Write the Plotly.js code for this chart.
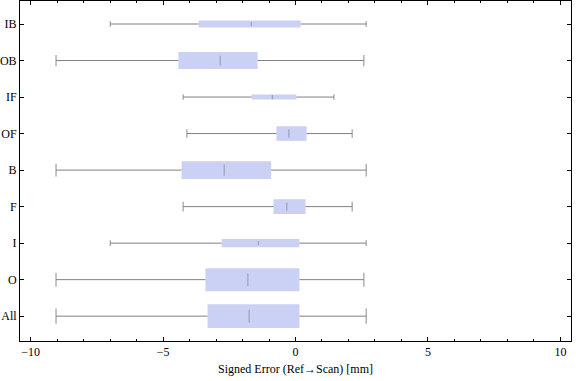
<!DOCTYPE html>
<html>
<head>
<meta charset="utf-8">
<script src="https://cdn.plot.ly/plotly-3.0.1.min.js"></script>
<style>html,body{margin:0;padding:0;background:#fff;}#chart{width:576px;height:381px;}</style>
</head>
<body>
<div id="chart"></div>
<script>
// ---- Data ----
const categories = ['All', 'O', 'I', 'F', 'B', 'OF', 'IF', 'OB', 'IB'];
const lowerFence = [-9.04, -9.04, -6.99, -4.24, -9.04, -4.10, -4.24, -9.04, -6.99];
const q1         = [-3.32, -3.40, -2.79, -0.83, -4.30, -0.72, -1.66, -4.42, -3.65];
const medians    = [-1.75, -1.80, -1.40, -0.33, -2.69, -0.25, -0.87, -2.84, -1.67];
const q3         = [ 0.15,  0.15,  0.15,  0.38, -0.92,  0.42,  0.03, -1.43,  0.19];
const upperFence = [ 2.67,  2.58,  2.67,  2.14,  2.67,  2.14,  1.45,  2.58,  2.67];
const xTitle = 'Signed Error (Ref\u2192Scan) [mm]';

// ---- Styling (sizes per box, not data) ----
const boxWidths   = [0.65, 0.63, 0.23, 0.40, 0.49, 0.40, 0.14, 0.47, 0.19];
const capSizes    = [11, 10, 4, 7, 9, 6, 4, 8, 4];
const medianSizes = [9, 9, 3, 6, 8, 6, 3, 7, 3];
const boxColor = '#cbd1f4';
const whiskerColor = '#808080';
const font = {family: 'Liberation Serif, Times New Roman, serif', size: 12, color: '#000'};

// whisker segments
const wx = [], wy = [];
categories.forEach((c, i) => {
  wx.push(lowerFence[i], q1[i], null, q3[i], upperFence[i], null);
  wy.push(c, c, null, c, c, null);
});

const traces = [
  {
    type: 'bar', orientation: 'h', y: categories,
    base: q1, x: q3.map((v, i) => v - q1[i]),
    width: boxWidths,
    marker: {color: boxColor, line: {width: 0}},
    hoverinfo: 'skip'
  },
  {
    type: 'scatter', mode: 'lines', x: wx, y: wy,
    line: {color: whiskerColor, width: 1},
    hoverinfo: 'skip'
  },
  {
    type: 'scatter', mode: 'markers',
    x: lowerFence.concat(upperFence), y: categories.concat(categories),
    marker: {symbol: 'line-ns', size: capSizes.concat(capSizes),
             line: {color: whiskerColor, width: 1.3}},
    hoverinfo: 'skip'
  },
  {
    type: 'scatter', mode: 'markers', x: medians, y: categories,
    marker: {symbol: 'line-ns', size: medianSizes,
             line: {color: 'rgba(120,120,135,0.7)', width: 1.3}},
    hoverinfo: 'skip'
  }
];

const layout = {
  width: 576, height: 381,
  margin: {l: 20, r: 5, t: 1, b: 40},
  showlegend: false,
  paper_bgcolor: '#fff', plot_bgcolor: '#fff',
  font: font,
  xaxis: {
    range: [-10.4, 10.4], tick0: 0, dtick: 5,
    ticks: 'inside', ticklen: 4, tickwidth: 1, tickcolor: '#000',
    minor: {dtick: 1, ticks: 'inside', ticklen: 2, tickwidth: 1, tickcolor: '#000'},
    showline: true, linecolor: '#000', linewidth: 1, mirror: 'allticks',
    showgrid: false, zeroline: false,
    tickfont: font,
    title: {text: xTitle, font: font, standoff: 6}
  },
  yaxis: {
    type: 'category', categoryorder: 'array', categoryarray: categories,
    range: [-0.68, 8.63],
    ticks: 'inside', ticklen: 4, tickwidth: 1, tickcolor: '#000',
    showline: true, linecolor: '#000', linewidth: 1, mirror: 'allticks',
    showgrid: false, zeroline: false,
    tickfont: font
  }
};

Plotly.newPlot('chart', traces, layout, {displayModeBar: false, staticPlot: true});
</script>
</body>
</html>
